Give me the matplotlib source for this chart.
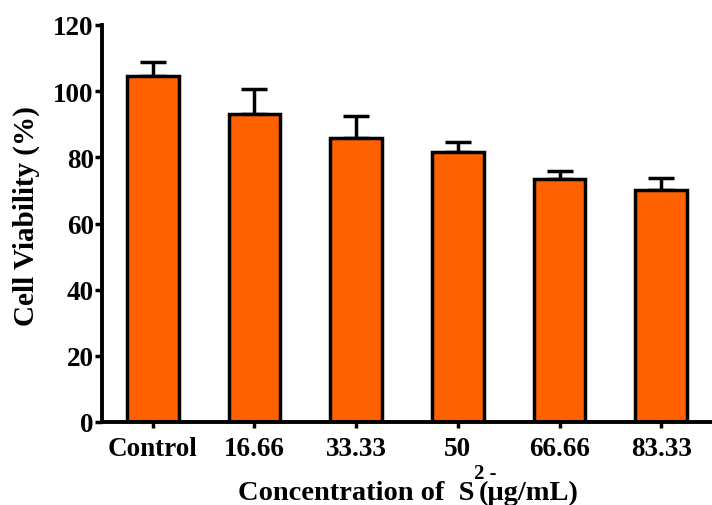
import matplotlib
matplotlib.use("Agg")
import matplotlib.pyplot as plt
import numpy as np

categories = ["Control", "16.66", "33.33", "50", "66.66", "83.33"]
viability = [104.5, 93.1, 85.9, 81.7, 73.3, 70.2]
sd = [4.2, 7.7, 6.7, 3.0, 2.7, 3.6]
yticks = [0, 20, 40, 60, 80, 100, 120]

plt.rcParams["font.family"] = ["Liberation Serif", "DejaVu Serif"]
plt.rcParams["font.weight"] = "bold"

W, H = 712, 506
fig = plt.figure(figsize=(W / 100, H / 100), dpi=100)
ax = fig.add_axes([102 / W, 83 / H, 610 / W, 397 / H])

x = np.arange(len(categories))
ax.bar(x, viability, width=0.51, color="#FF6000", edgecolor="black",
       linewidth=2.5, zorder=2)
ax.errorbar(x, viability, yerr=[np.zeros(len(sd)), sd], fmt="none",
            ecolor="black", elinewidth=2.5, capsize=9.5, capthick=2.5, zorder=1)

ax.set_xlim(-0.5, 5.5)
ax.set_ylim(0, 120)
ax.set_yticks(yticks)
ax.set_xticks(x)
ax.set_xticklabels(categories)

for side in ("top", "right"):
    ax.spines[side].set_visible(False)
for side in ("left", "bottom"):
    ax.spines[side].set_linewidth(2.8)

ax.tick_params(axis="y", direction="out", length=5, width=2.5, labelsize=19.5, pad=1)
ax.tick_params(axis="x", direction="out", length=4, width=2.5, labelsize=19.5, pad=6)
for lab in ax.get_xticklabels() + ax.get_yticklabels():
    lab.set_fontweight("bold")

fig.text(26 / W, 1 - 216 / H, "Cell Viability (%)", fontsize=21,
         fontweight="bold", rotation=90, ha="center", va="center")

# x-axis title with the S2- ion written as separate pieces
t1 = fig.text(238 / W, 6 / H, "Concentration of  S", fontsize=20.5,
              fontweight="bold", ha="left", va="baseline")
ax.annotate("(μg/mL)", xy=(1, 0), xycoords=t1, xytext=(3, 0),
            textcoords="offset points", fontsize=20.5, fontweight="bold",
            ha="left", va="bottom", annotation_clip=False)
ax.annotate("2 -", xy=(1, 0), xycoords=t1, xytext=(0, 16),
            textcoords="offset points", fontsize=15, fontweight="bold",
            ha="left", va="bottom", annotation_clip=False)

fig.savefig("out.png", dpi=100)
